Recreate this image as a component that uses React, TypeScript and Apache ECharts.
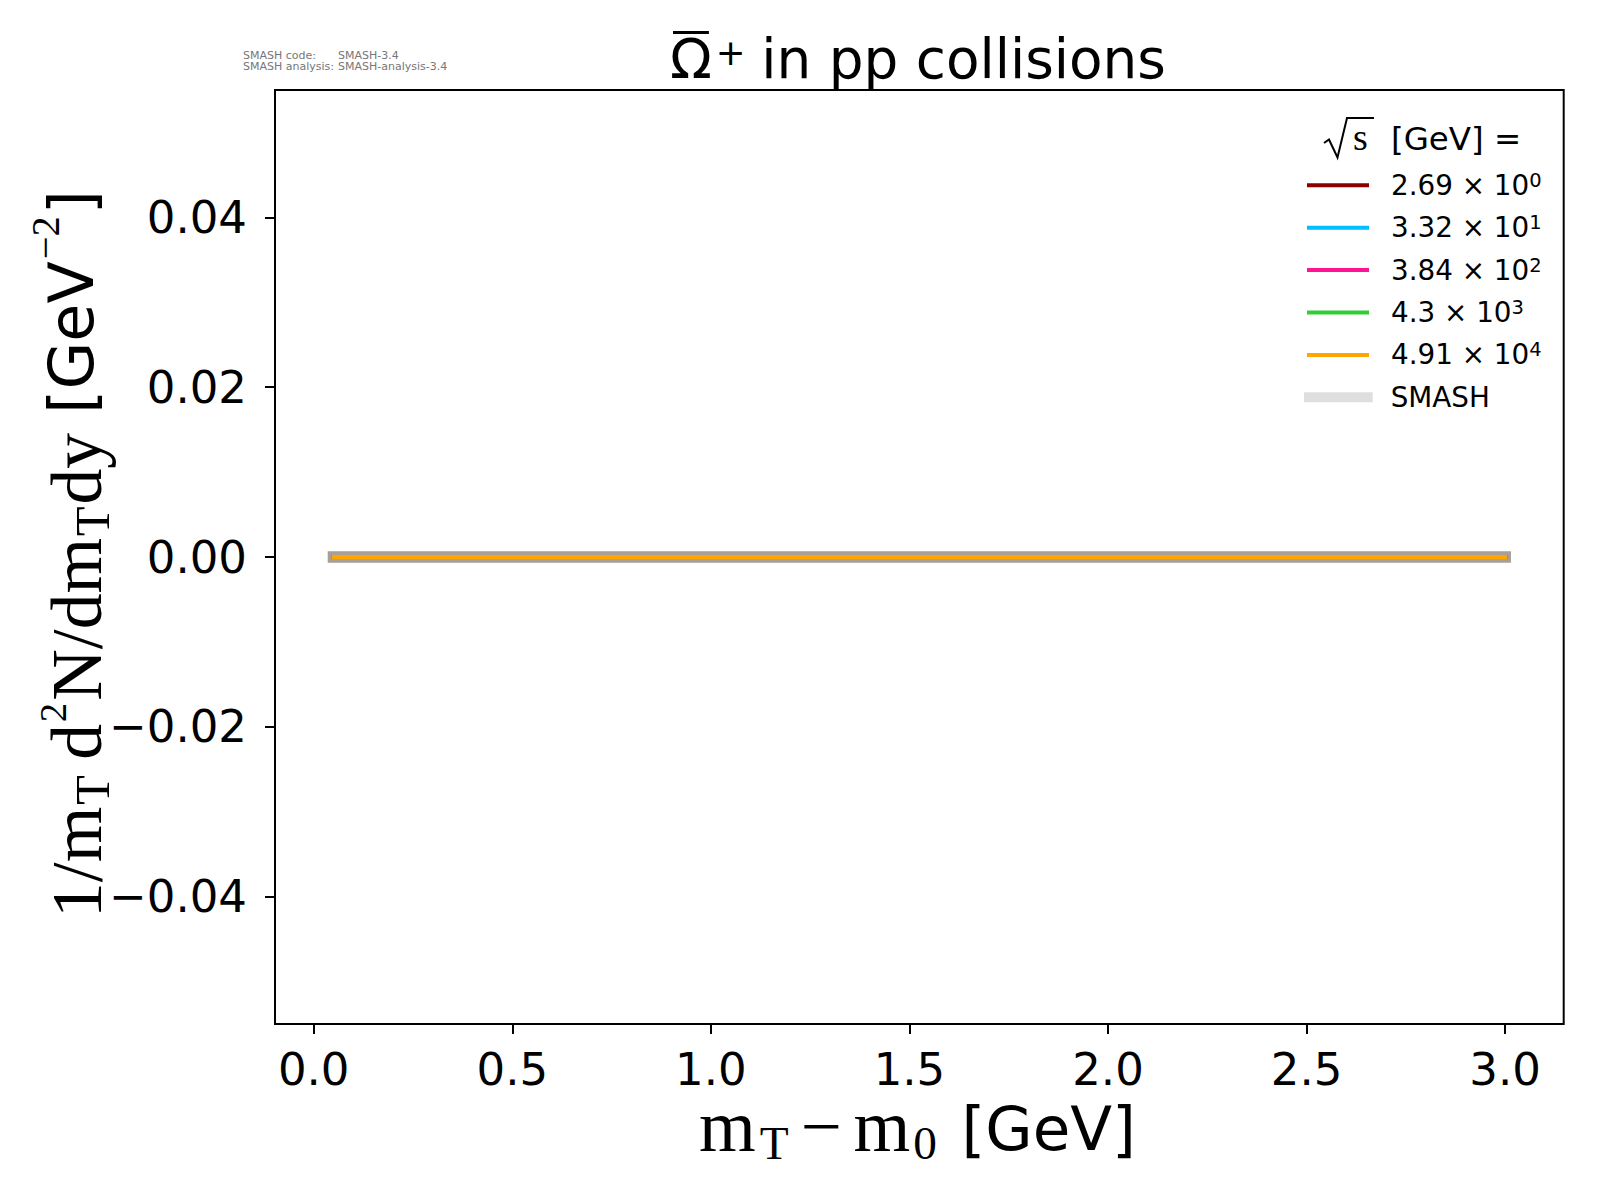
import React, { useEffect, useRef } from "react";
import * as echarts from "echarts";

// ---- data ----
const mtBins = [0.05, 0.25, 0.5, 0.75, 1.0, 1.25, 1.5, 1.75, 2.0, 2.25, 2.5, 2.75, 3.0];
const energyMantissas = ["2.69", "3.32", "3.84", "4.3", "4.91"];
const energyExponents = ["0", "1", "2", "3", "4"];
const energyColors = ["#8b0000", "#00bfff", "#ff1493", "#32cd32", "#ffa500"];
const yields_2_69e0 = [0, 0, 0, 0, 0, 0, 0, 0, 0, 0, 0, 0, 0];
const yields_3_32e1 = [0, 0, 0, 0, 0, 0, 0, 0, 0, 0, 0, 0, 0];
const yields_3_84e2 = [0, 0, 0, 0, 0, 0, 0, 0, 0, 0, 0, 0, 0];
const yields_4_3e3 = [0, 0, 0, 0, 0, 0, 0, 0, 0, 0, 0, 0, 0];
const yields_4_91e4 = [0, 0, 0, 0, 0, 0, 0, 0, 0, 0, 0, 0, 0];
const smashYields = [0, 0, 0, 0, 0, 0, 0, 0, 0, 0, 0, 0, 0];
const energyYields = [yields_2_69e0, yields_3_32e1, yields_3_84e2, yields_4_3e3, yields_4_91e4];

const xTickValues = [0, 0.5, 1.0, 1.5, 2.0, 2.5, 3.0];
const yTickValues = [-0.04, -0.02, 0, 0.02, 0.04];
const xAxisMin = -0.0975;
const xAxisMax = 3.1475;
const yAxisMin = -0.055;
const yAxisMax = 0.055;

const SANS = "DejaVu Sans";
const SERIF = "Liberation Serif";

type Run = { t: string; f: string; s: number; b: number; dx?: number };

const ctx2d = (() => {
  const c = document.createElement("canvas");
  return c.getContext("2d") as CanvasRenderingContext2D;
})();

function measureW(t: string, f: string, s: number) {
  ctx2d.font = `${s}px "${f}"`;
  return ctx2d.measureText(t).width;
}
function centralUp(f: string, s: number) {
  ctx2d.font = `${s}px "${f}"`;
  const m = ctx2d.measureText("M");
  const a = (m as any).fontBoundingBoxAscent ?? s * 0.9;
  const d = (m as any).fontBoundingBoxDescent ?? s * 0.22;
  return (a - d) / 2;
}

// lays out runs of text on a common baseline, centred on 0, scaled to a target width
function layoutRuns(runs: Run[], targetWidth: number) {
  let natural = 0;
  runs.forEach((r) => {
    natural += (r.dx || 0) + measureW(r.t, r.f, r.s);
  });
  let k = targetWidth / natural;
  k = Math.max(0.85, Math.min(1.15, k));
  const total = natural * k;
  let x = -total / 2;
  const items: any[] = [];
  const boxes: { x0: number; x1: number }[] = [];
  runs.forEach((r) => {
    x += (r.dx || 0) * k;
    const s = r.s * k;
    const w = measureW(r.t, r.f, s);
    const y = r.b * k - centralUp(r.f, s);
    items.push({
      type: "text",
      x,
      y,
      style: {
        text: r.t,
        fontFamily: r.f,
        fontSize: s,
        lineHeight: Math.round(s * 0.8),
        fill: "#000",
        align: "left",
        verticalAlign: "middle",
      },
    });
    boxes.push({ x0: x, x1: x + w });
    x += w;
  });
  return { items, boxes, k };
}

export default function App() {
  const ref = useRef<HTMLDivElement>(null);

  useEffect(() => {
    if (!ref.current) return;
    const chart = echarts.init(ref.current, null, { renderer: "svg" });

    const energyNames = energyMantissas.map((m, i) => `${m}e${energyExponents[i]}`);

    const series: any[] = [
      {
        name: "SMASH",
        type: "line",
        data: mtBins.map((x, i) => [x, smashYields[i]]),
        showSymbol: false,
        symbol: "none",
        itemStyle: { color: "#dedede" },
        lineStyle: { color: "#a89f97", width: 11.7, cap: "square" },
        z: 2,
      },
      ...energyNames.map((name, k) => ({
        name,
        type: "line",
        data: mtBins.map((x, i) => [x, energyYields[k][i]]),
        showSymbol: false,
        symbol: "none",
        itemStyle: { color: energyColors[k] },
        lineStyle: { color: energyColors[k], width: 4, cap: "square" },
        z: 3,
      })),
    ];

    const legendRich = {
      n: { fontFamily: SANS, fontSize: 27.8, lineHeight: 30, color: "#000" },
      e: { fontFamily: SANS, fontSize: 19.5, lineHeight: 20, verticalAlign: "top", color: "#000" },
    };

    // title
    const title = layoutRuns(
      [
        { t: "\u03a9", f: SANS, s: 55.6, b: 0 },
        { t: "+", f: SANS, s: 36, b: -13, dx: 4 },
        { t: "in pp collisions", f: SANS, s: 55.6, b: 0, dx: 16 },
      ],
      496
    );
    const om = title.boxes[0];
    title.items.push({
      type: "line",
      shape: { x1: om.x0 + 3, y1: -46 * title.k, x2: om.x1 - 3, y2: -46 * title.k },
      style: { stroke: "#000", lineWidth: 3 },
    });

    // x axis label
    const xLab = layoutRuns(
      [
        { t: "m", f: SERIF, s: 74, b: 0 },
        { t: "T", f: SERIF, s: 48, b: 8, dx: 4 },
        { t: "\u2212", f: SERIF, s: 74, b: 0, dx: 12 },
        { t: "m", f: SERIF, s: 74, b: 0, dx: 12 },
        { t: "0", f: SERIF, s: 48, b: 8, dx: 3 },
        { t: "[GeV]", f: SANS, s: 62, b: -1, dx: 25 },
      ],
      437
    );

    // y axis label
    const yLab = layoutRuns(
      [
        { t: "1/m", f: SERIF, s: 74, b: 0 },
        { t: "T", f: SERIF, s: 50, b: 8, dx: 2 },
        { t: "d", f: SERIF, s: 74, b: 0, dx: 16 },
        { t: "2", f: SERIF, s: 40, b: -36, dx: 2 },
        { t: "N/dm", f: SERIF, s: 74, b: 0, dx: 2 },
        { t: "T", f: SERIF, s: 50, b: 8, dx: 2 },
        { t: "dy", f: SERIF, s: 74, b: 0, dx: 2 },
        { t: "[GeV", f: SANS, s: 64, b: -8, dx: 20 },
        { t: "\u22122", f: SERIF, s: 42, b: -43, dx: 2 },
        { t: "]", f: SANS, s: 64, b: -8, dx: 2 },
      ],
      728
    );

    const option: any = {
      animation: false,
      backgroundColor: "#ffffff",
      grid: {
        left: 275,
        right: 36.3,
        top: 90,
        bottom: 176,
        show: true,
        borderColor: "#000",
        borderWidth: 2,
        backgroundColor: "transparent",
        containLabel: false,
        outerBoundsMode: "none",
      },
      xAxis: {
        type: "value",
        min: xAxisMin,
        max: xAxisMax,
        position: "bottom",
        axisLine: { show: false, onZero: false },
        splitLine: { show: false },
        axisTick: {
          show: true,
          customValues: xTickValues,
          length: 10,
          inside: false,
          lineStyle: { color: "#000", width: 2 },
        },
        axisLabel: {
          customValues: xTickValues,
          formatter: (v: number) => v.toFixed(1),
          fontSize: 45,
          fontFamily: SANS,
          color: "#000",
          margin: 25,
          lineHeight: 40,
        },
      },
      yAxis: {
        type: "value",
        min: yAxisMin,
        max: yAxisMax,
        position: "left",
        axisLine: { show: false, onZero: false },
        splitLine: { show: false },
        axisTick: {
          show: true,
          customValues: yTickValues,
          length: 10,
          inside: false,
          lineStyle: { color: "#000", width: 2 },
        },
        axisLabel: {
          customValues: yTickValues,
          formatter: (v: number) => {
            const s = Math.abs(v).toFixed(2);
            return v < -1e-12 ? "\u2212" + s : s;
          },
          fontSize: 45,
          fontFamily: SANS,
          color: "#000",
          margin: 28,
        },
      },
      legend: [
        {
          orient: "vertical",
          left: 1307,
          top: 170.3,
          padding: 0,
          itemWidth: 62,
          itemHeight: 4,
          itemGap: 12.4,
          icon: "rect",
          selectedMode: false,
          itemStyle: { borderWidth: 0 },
          data: energyNames,
          formatter: (name: string) => {
            const i = energyNames.indexOf(name);
            return `{n|${energyMantissas[i]} \u00d7 10}{e|${energyExponents[i]}}`;
          },
          textStyle: {
            fontFamily: SANS,
            fontSize: 27.8,
            lineHeight: 30,
            color: "#000",
            padding: [0, 0, 0, 17],
            rich: legendRich,
          },
        },
        {
          orient: "vertical",
          left: 1304,
          top: 382.3,
          padding: 0,
          itemWidth: 68.7,
          itemHeight: 10,
          icon: "rect",
          selectedMode: false,
          itemStyle: { borderWidth: 0 },
          data: [{ name: "SMASH", itemStyle: { color: "#dedede", borderWidth: 0 } }],
          textStyle: {
            fontFamily: SANS,
            fontSize: 27.8,
            lineHeight: 30,
            color: "#000",
            padding: [0, 0, 0, 13],
          },
        },
      ],
      graphic: [
        { type: "group", x: 918, y: 78, children: title.items },
        // SMASH version info
        { type: "text", x: 243, y: 55, style: { text: "SMASH code:", fontFamily: SANS, fontSize: 11, fill: "#777", verticalAlign: "middle" } },
        { type: "text", x: 338, y: 55, style: { text: "SMASH-3.4", fontFamily: SANS, fontSize: 11, fill: "#777", verticalAlign: "middle" } },
        { type: "text", x: 243, y: 66, style: { text: "SMASH analysis:", fontFamily: SANS, fontSize: 11, fill: "#777", verticalAlign: "middle" } },
        { type: "text", x: 338, y: 66, style: { text: "SMASH-analysis-3.4", fontFamily: SANS, fontSize: 11, fill: "#777", verticalAlign: "middle" } },
        // legend title: sqrt(s) [GeV] =
        {
          type: "polyline",
          shape: { points: [[1324, 143], [1329, 139.5], [1337.5, 157.5], [1347, 118], [1374, 118]] },
          style: { stroke: "#000", lineWidth: 2, fill: null },
        },
        { type: "text", x: 1353, y: 136.5, style: { text: "s", fontFamily: SERIF, fontSize: 38, fill: "#000", verticalAlign: "middle" } },
        { type: "text", x: 1391, y: 139, style: { text: "[GeV] =", fontFamily: SANS, fontSize: 32.5, fill: "#000", verticalAlign: "middle" } },
        // axis labels
        { type: "group", x: 917.5, y: 1151, children: xLab.items },
        { type: "group", x: 101, y: 554, rotation: Math.PI / 2, children: yLab.items },
      ],
      series,
    };

    chart.setOption(option);
    return () => {
      chart.dispose();
    };
  }, []);

  return (
    <div
      ref={ref}
      style={{ position: "fixed", left: 0, top: 0, width: 1600, height: 1200, background: "#fff" }}
    />
  );
}
